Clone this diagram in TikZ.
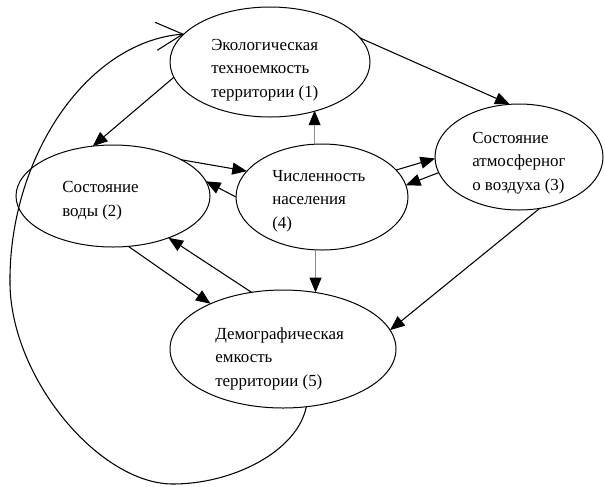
\documentclass[tikz,border=0pt]{standalone}
\usepackage{fontspec}
\setmainfont{Liberation Serif}
\usetikzlibrary{shapes.geometric,arrows.meta}
\begin{document}
\begin{tikzpicture}[x=0.75pt,y=-0.75pt,
  ell/.style={draw,ellipse,line width=0.75pt,inner sep=0pt,outer sep=0pt},
  lbl/.style={anchor=base west,align=left,inner sep=0pt,font=\fontsize{12.7pt}{17.6pt}\selectfont},
  arr/.style={line width=0.8pt,-{Triangle[length=11pt,width=9pt]}},
  garr/.style={line width=0.5pt,draw=black!45,-{Triangle[length=11pt,width=9pt,color=black]}},
  loop/.style={line width=0.8pt,-{Straight Barb[length=20pt,width=21pt,line width=0.8pt]}}]
\useasboundingbox (0,0) rectangle (605,486);
\node[ell,minimum width=150pt,minimum height=82.5pt] (n1) at (270,62) {};
\node[ell,minimum width=145.5pt,minimum height=76.5pt] (n2) at (113,196) {};
\node[ell,minimum width=126pt,minimum height=79.5pt] (n3) at (519,157) {};
\node[ell,minimum width=129pt,minimum height=79.5pt] (n4) at (322,197) {};
\node[ell,minimum width=169.5pt,minimum height=88.5pt] (n5) at (283,349) {};
\node[lbl] (t1) at (211,97) {Экологическая\\техноемкость\\территории (1)};
\node[lbl] (t2) at (62,216) {Состояние\\воды (2)};
\node[lbl] (t3) at (472,190) {Состояние\\атмосферног\\о воздуха (3)};
\node[lbl] (t4) at (272,228) {Численность\\населения\\(4)};
\node[lbl] (t5) at (215,386) {Демографическая\\емкость\\территории (5)};
\draw[arr] (n1.189) -- (n2.112);
\draw[arr] (n2.28) -- (n4.161);
\draw[arr] (n4.180) -- (n2.9);
\draw[garr] (n4.98) -- (n4.98 |- n1.314);
\draw[arr] (n1.15) -- (n3.100);
\draw[arr] (n4.20) -- (n3.181);
\draw[arr] (n3.191) -- (n4.8);
\draw[arr] (n3.292) -- (n5.10);
\draw[garr] (n4.263) -- (n4.263 |- n5.61);
\draw[arr] (n2.287) -- (n5.148);
\draw[arr] (n5.119) -- (n2.323);
\draw[loop] (n5.292) .. controls (297,452) and (232,484) .. (173,484)
  .. controls (100,484) and (12,380) .. (10,285)
  .. controls (8,160) and (85,42) .. (n1.162);
\end{tikzpicture}
\end{document}
